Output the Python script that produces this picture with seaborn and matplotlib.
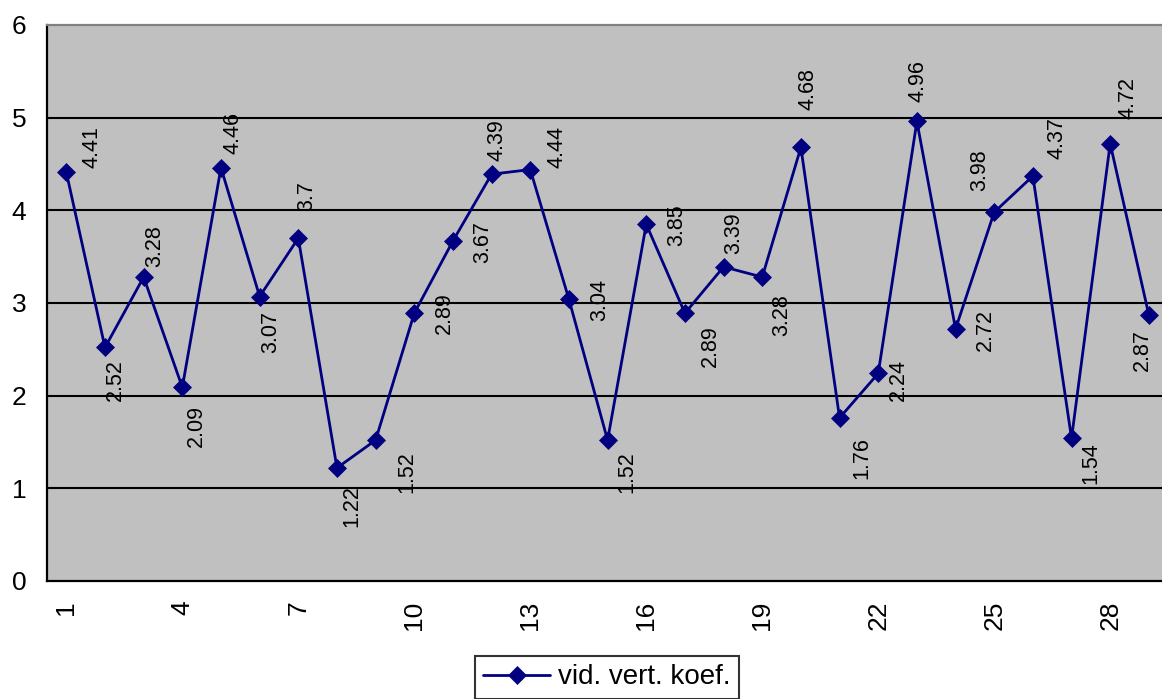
import matplotlib
matplotlib.use("Agg")
import matplotlib.pyplot as plt
import seaborn as sns
import numpy as np
from matplotlib.ticker import FixedLocator, NullFormatter

# ---- data ----
categories = list(range(1, 30))
values = [4.41, 2.52, 3.28, 2.09, 4.46, 3.07, 3.7, 1.22, 1.52, 2.89,
          3.67, 4.39, 4.44, 3.04, 1.52, 3.85, 2.89, 3.39, 3.28, 4.68,
          1.76, 2.24, 4.96, 2.72, 3.98, 4.37, 1.54, 4.72, 2.87]
value_labels = ["4.41", "2.52", "3.28", "2.09", "4.46", "3.07", "3.7", "1.22", "1.52", "2.89",
                "3.67", "4.39", "4.44", "3.04", "1.52", "3.85", "2.89", "3.39", "3.28", "4.68",
                "1.76", "2.24", "4.96", "2.72", "3.98", "4.37", "1.54", "4.72", "2.87"]
series_name = "vid. vert. koef."
x_tick_labels = [1, 4, 7, 10, 13, 16, 19, 22, 25, 28]
y_ticks = [0, 1, 2, 3, 4, 5, 6]

# label placement offsets (pixels, right / down) as in the reference
label_dx = [26, 10, 11, 14, 12, 11, 8, 15, 31, 30, 30, 5, 27, 31, 19, 30, 25, 10, 19, 7,
            22, 20, 1, 30, -14, 24, 19, 18, -6]
label_dy = [-25, 33, -31, 39, -35, 35, -42, 38, 32, 0, 1, -34, -23, 1, 32, 1, 33, -34, 38, -58,
            40, 7, -40, 1, -42, -38, 25, -46, 35]

W, H = 1162, 699
fig = plt.figure(figsize=(W / 100, H / 100), dpi=100)
sns.set_style("white")
plt.rcParams["font.family"] = ["Liberation Sans", "DejaVu Sans"]
plt.rcParams["text.color"] = "black"

ax = fig.add_axes([47 / W, (H - 581) / H, (W - 47) / W, (581 - 25) / H])
ax.set_facecolor("#C0C0C0")

navy = "#000080"
sns.lineplot(x=categories, y=values, ax=ax, color=navy, linewidth=2.0,
             marker="D", markersize=9, markeredgecolor=navy, markerfacecolor=navy,
             markeredgewidth=0.5, label=series_name, zorder=5)

ax.set_xlim(0.5, 29.34)
ax.set_ylim(0, 6)

# gridlines
for yv in y_ticks[1:-1]:
    ax.axhline(yv, color="black", linewidth=1.5, zorder=1)

# spines
for s in ["left", "bottom"]:
    ax.spines[s].set_color("black")
    ax.spines[s].set_linewidth(1.6)
ax.spines["top"].set_color("#808080")
ax.spines["top"].set_linewidth(1.6)
ax.spines["right"].set_visible(False)

# y axis
ax.set_yticks(y_ticks)
ax.set_yticklabels([str(v) for v in y_ticks])
ax.tick_params(axis="y", direction="out", length=8, width=1.5, color="black",
               labelsize=19, labelcolor="black", pad=7)

# x axis: labels at category centers, tick marks at category boundaries
ax.set_xticks(x_tick_labels)
ax.set_xticklabels([str(v) for v in x_tick_labels], rotation=90, va="top", ha="center")
ax.tick_params(axis="x", which="major", length=0, labelsize=19, labelcolor="black", pad=14)
ax.xaxis.set_minor_locator(FixedLocator(np.arange(0.5, 30, 1.0)))
ax.xaxis.set_minor_formatter(NullFormatter())
ax.tick_params(axis="x", which="minor", direction="out", length=8, width=1.5, color="black")
ax.set_xlabel("")
ax.set_ylabel("")

# data labels
for xi, yi, lab, dx, dy in zip(categories, values, value_labels, label_dx, label_dy):
    ax.annotate(lab, xy=(xi, yi), xytext=(dx, -dy), textcoords="offset pixels",
                rotation=90, ha="center", va="center", fontsize=15.5, color="black",
                zorder=6)

# legend
leg = ax.legend(loc="upper center", bbox_to_anchor=(607 / W, 1 - 656 / H),
                bbox_transform=fig.transFigure, frameon=True, fancybox=False,
                edgecolor="black", fontsize=20, handlelength=2.4, handletextpad=0.3,
                borderpad=0.3, borderaxespad=0)
leg.get_frame().set_linewidth(1.5)
for t in leg.get_texts():
    t.set_color("black")

fig.savefig("out.png", dpi=100, facecolor="white")
